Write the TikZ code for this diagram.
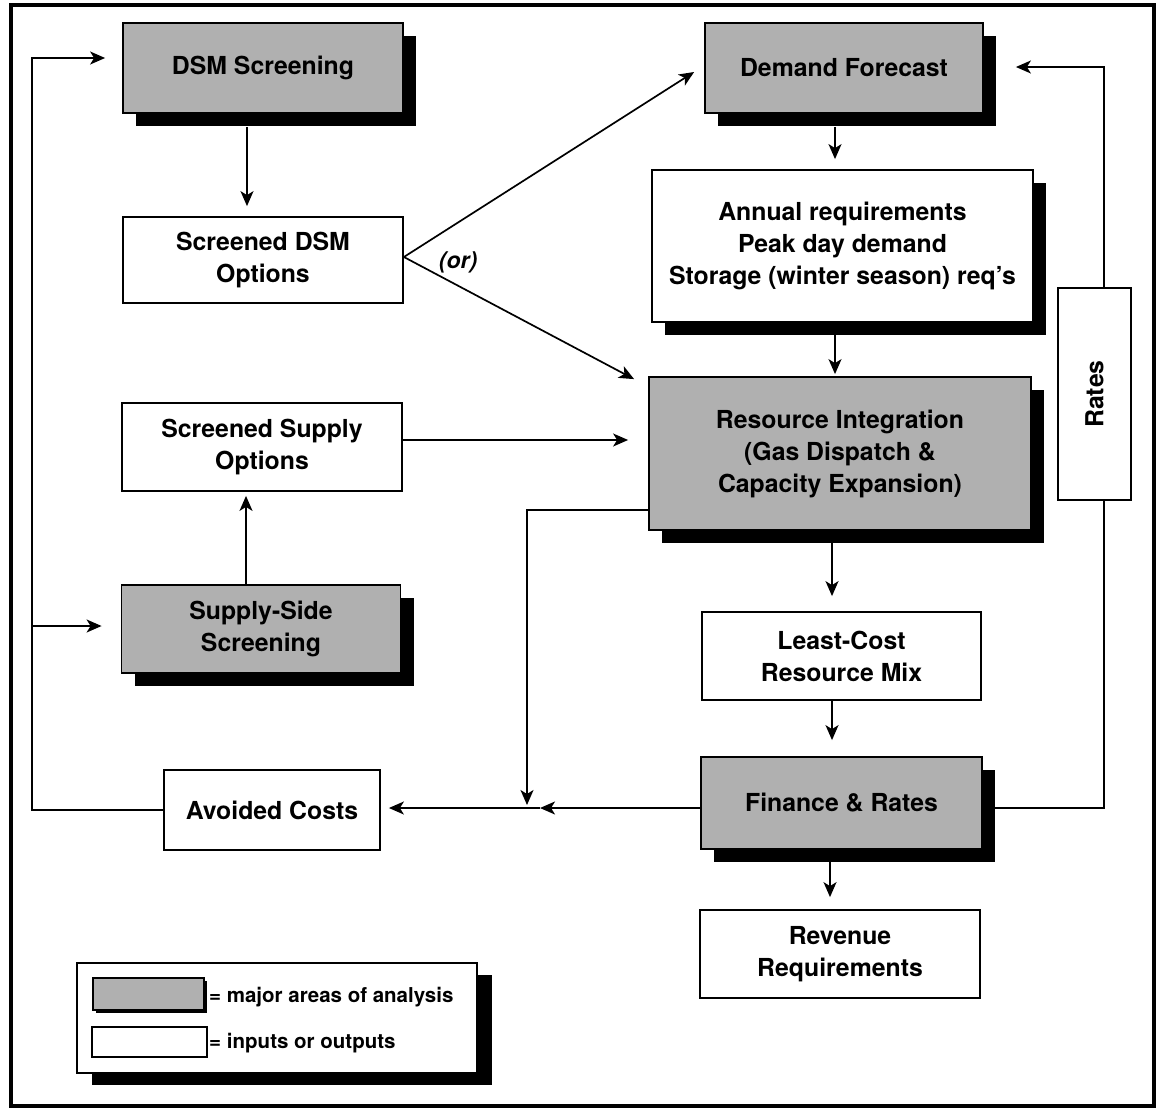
\documentclass[tikz,border=0pt]{standalone}
\usepackage{fontspec}
\setmainfont{TeX Gyre Heros}
\usetikzlibrary{arrows.meta,shadows,calc}
\definecolor{screen}{HTML}{B0B0B0}
\begin{document}
\begin{tikzpicture}[x=1pt,y=-1pt,
  every node/.style={font=\fontsize{24.8}{32}\selectfont\bfseries, align=center, inner sep=0pt},
  box/.style={draw, line width=1.8pt, fill=white, rectangle},
  boxsh/.style={box, drop shadow={shadow xshift=13pt, shadow yshift=-13pt, fill=black, opacity=1}},
  area/.style={boxsh, fill=screen},
  conn/.style={line width=1.7pt},
  arr/.style={conn, -{Stealth[length=15pt,width=13pt,inset=4pt]}},
  legtext/.style={font=\fontsize{20.5}{24}\selectfont\bfseries, anchor=west},
]
\useasboundingbox (0,0) rectangle (1159,1111);
% outer frame
\draw[line width=3.5pt] (11,5) rectangle (1154,1106);

% left column
\node[area, minimum width=280pt, minimum height=90pt] (dsm) at (263,68) {DSM Screening};
\node[box, minimum width=280pt, minimum height=86pt] (sdsm) at (263,260) {Screened DSM\\Options};
\node[box, minimum width=280pt, minimum height=88pt] (ssup) at (262,447) {Screened Supply\\Options};
\node[area, minimum width=279pt, minimum height=88pt] (sside) at (261,629) {Supply-Side\\Screening};
\node[box, minimum width=216pt, minimum height=80pt] (avoid) at (272,810) {Avoided Costs};

% right column
\node[area, minimum width=278pt, minimum height=90pt] (dem) at (844,68) {Demand Forecast};
\node[boxsh, minimum width=381pt, minimum height=152pt] (ann) at (842.5,246)
  {Annual requirements\\Peak day demand\\Storage (winter season) req's};
\node[area, minimum width=382pt, minimum height=153pt] (ri) at (840,453.5)
  {Resource Integration\\(Gas Dispatch \&\\Capacity Expansion)};
\node[box, minimum width=279pt, minimum height=88pt] (lc) at (841.5,656) {Least-Cost\\Resource Mix};
\node[area, minimum width=281pt, minimum height=92pt] (fin) at (841.5,803) {Finance \& Rates};
\node[box, minimum width=280pt, minimum height=88pt] (rev) at (840,954) {Revenue\\Requirements};
\node[box, minimum width=73pt, minimum height=212pt] (rates) at (1094.5,394) {};
\node[rotate=90] at (rates) {Rates};

% legend
\node[box, minimum width=400pt, minimum height=110pt,
  drop shadow={shadow xshift=15pt, shadow yshift=-12pt, fill=black, opacity=1}] (leg) at (277,1018) {};
\node[box, fill=screen, line width=1.5pt, minimum width=111pt, minimum height=32pt,
  drop shadow={shadow xshift=3pt, shadow yshift=-3pt, fill=black, opacity=1}] (legA) at (148.5,994) {};
\node[box, line width=1.5pt, minimum width=115pt, minimum height=30pt] (legB) at (149.5,1042) {};
\node[legtext] at (209,997) {= major areas of analysis};
\node[legtext] at (209,1043) {= inputs or outputs};

% vertical flow connectors
\draw[arr] ($(dsm.south)+(-16,13)$) -- ($(sdsm.north)+(-16,-10)$);
\draw[arr] ($(sside.north)+(-15,0)$) -- ($(ssup.south)+(-16,4)$);
\draw[arr] ($(dem.south)+(-9,13)$) -- ($(ann.north)+(-7.5,-10)$);
\draw[arr] ($(ann.south)+(-7.5,10)$) -- ($(ri.north)+(-5,-2)$);
\draw[arr] ($(ri.south)+(-8,10)$) -- ($(lc.north)+(-9.5,-15)$);
\draw[arr] ($(lc.south)+(-9.5,0)$) -- ($(fin.north)+(-9.5,-16)$);
\draw[arr] ($(fin.south)+(-11.5,12)$) -- ($(rev.north)+(-10,-12)$);

% screened options into the forecast / integration
\draw[arr] ($(sdsm.east)+(0,-3)$) -- ($(dem.west)+(-10,4)$);
\draw[arr] ($(sdsm.east)+(0,-3)$) -- ($(ri.north west)+(-14,3)$);
\node[font=\fontsize{23}{28}\selectfont\bfseries\itshape] (or) at (458,262) {(or)};
\draw[arr] ($(ssup.east)+(0,-7)$) -- ($(ri.west)+(-20,-13.5)$);

% avoided-cost paths
\coordinate (j) at (540,808);
\coordinate (k) at (527,510);
\draw[arr] (fin.west |- j) -- (j);
\draw[arr] (j) -- ($(avoid.east |- j)+(8,0)$);
\draw[arr] (ri.west |- k) -- (k) -- ($(k |- j)+(0,-3)$);

% feedback to the screening steps
\coordinate (fb) at (32,626);
\draw[arr] (avoid.west) -- (avoid.west -| fb) |- ($(dsm.west)+(-17,-10)$);
\draw[arr] (fb) -- ($(sside.west)+(-19,-3)$);

% rates loop back to the forecast
\draw[conn] (fin.east |- j) -- ($(rates.south |- j)+(9.5,0)$) -- ($(rates.south)+(9.5,0)$);
\draw[arr] ($(rates.north)+(9.5,0)$) |- ($(dem.east)+(32,-1)$);
\end{tikzpicture}
\end{document}
